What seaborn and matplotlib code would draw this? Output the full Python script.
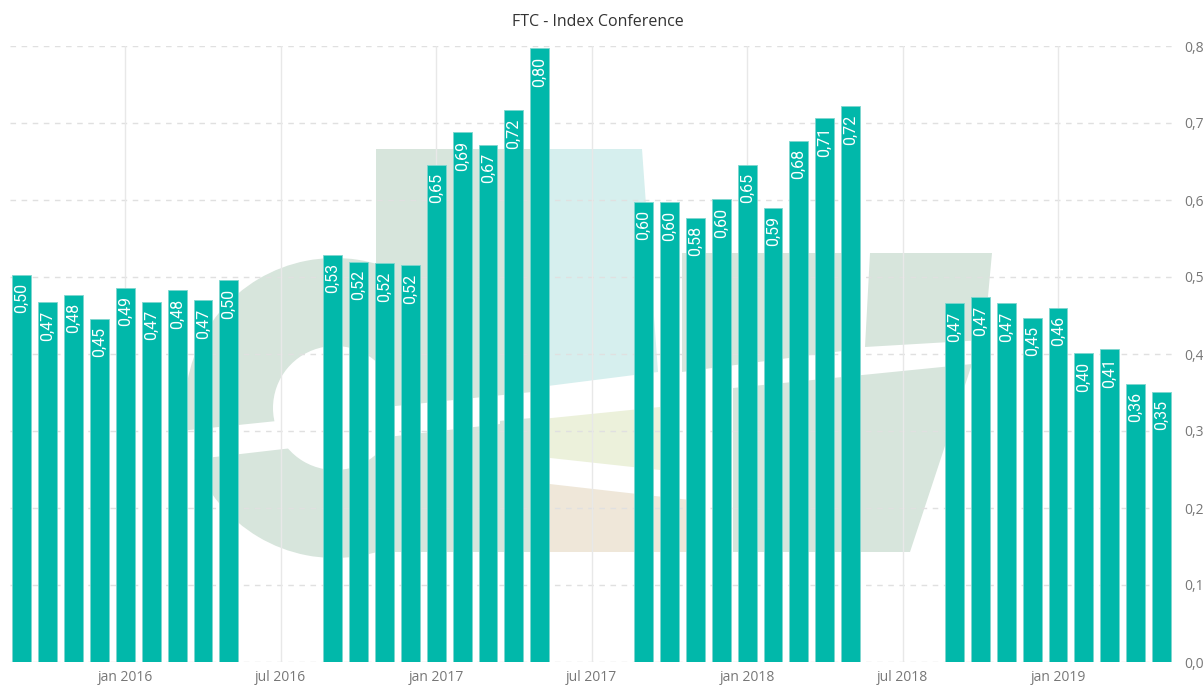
import matplotlib
matplotlib.use("Agg")
import matplotlib.pyplot as plt
from matplotlib.patches import Polygon, Wedge
import numpy as np
import pandas as pd
import seaborn as sns

# monthly index values, one list per season (sep - may), summer months have no data
season_2015 = [0.503, 0.467, 0.477, 0.446, 0.486, 0.468, 0.483, 0.470, 0.496]
season_2016 = [0.529, 0.520, 0.518, 0.515, 0.646, 0.688, 0.672, 0.717, 0.797]
season_2017 = [0.598, 0.597, 0.577, 0.601, 0.646, 0.590, 0.677, 0.706, 0.722]
season_2018 = [0.466, 0.474, 0.466, 0.447, 0.460, 0.401, 0.406, 0.361, 0.351]

months_en = ["jan", "feb", "mar", "apr", "maj", "jun", "jul", "aug", "sep", "okt", "nov", "dec"]
tick_months = ["jan 2016", "jul 2016", "jan 2017", "jul 2017", "jan 2018", "jul 2018", "jan 2019"]

bar_color = "#01B8AA"

dates = pd.date_range("2015-09-01", "2019-05-01", freq="MS")
season_data = {2015: season_2015, 2016: season_2016, 2017: season_2017, 2018: season_2018}
rows = []
for d in dates:
    season = d.year if d.month >= 9 else d.year - 1
    idx = (d.month - 9) % 12
    val = season_data[season][idx] if idx < 9 else np.nan
    rows.append({"month": f"{months_en[d.month - 1]} {d.year}", "value": val})
df = pd.DataFrame(rows)
order = list(df["month"])

sns.set_style("white")
plt.rcParams["font.family"] = ["Open Sans", "DejaVu Sans"]

fig = plt.figure(figsize=(12.03, 6.86), dpi=100)

# faint logo watermark behind the chart
bg = fig.add_axes([0, 0, 1, 1], zorder=0)
bg.set_xlim(0, 1203)
bg.set_ylim(686, 0)
bg.axis("off")
green = "#d7e5dc"
bg.add_patch(Wedge((335, 408), 150, 22, 338, width=88, color=green, lw=0))
shapes = [
    ([(376, 149), (532, 149), (532, 392), (376, 408)], green),
    ([(532, 149), (642, 149), (658, 372), (532, 388)], "#d6efee"),
    ([(376, 432), (532, 418), (532, 552), (376, 552)], green),
    ([(532, 420), (660, 407), (660, 470), (532, 456)], "#ecf1db"),
    ([(532, 482), (690, 500), (700, 552), (532, 552)], "#efe7d9"),
    ([(682, 253), (850, 253), (850, 350), (682, 372)], green),
    ([(733, 388), (972, 364), (910, 552), (733, 552)], green),
    ([(870, 253), (992, 253), (984, 340), (865, 347)], green),
]
for pts, col in shapes:
    bg.add_patch(Polygon(pts, closed=True, color=col, lw=0))
bg.add_patch(Polygon([(180, 431), (500, 398), (500, 424), (180, 461)], closed=True, color="white", lw=0))

ax = fig.add_axes([10 / 1203, 1 - 662 / 686, 1162 / 1203, (662 - 46) / 686], zorder=1)
ax.patch.set_alpha(0)

sns.barplot(data=df, x="month", y="value", order=order, color=bar_color,
            width=0.73, saturation=1, edgecolor="#7fd6cf", linewidth=0.6, ax=ax)

for p in ax.patches:
    h = p.get_height()
    if np.isnan(h):
        continue
    ax.annotate(f"{h:.2f}".replace(".", ","), (p.get_x() + p.get_width() / 2, h),
                xytext=(0, -6), textcoords="offset points", rotation=90,
                ha="center", va="top", color="white", fontsize=11.5, family=["Roboto", "DejaVu Sans"])

ax.set_xlim(-0.45, 44.4)
ax.set_ylim(0, 0.8)
ax.set_xlabel("")
ax.set_ylabel("")

tick_pos = [order.index(m) for m in tick_months]
ax.set_xticks(tick_pos)
ax.set_xticklabels(tick_months, color="#777777", fontsize=10)
ax.set_yticks(np.arange(0, 0.81, 0.1))
ax.set_yticklabels([f"{v:.1f}".replace(".", ",") for v in np.arange(0, 0.81, 0.1)],
                   color="#777777", fontsize=10)
ax.yaxis.tick_right()
ax.tick_params(axis="both", length=0)
ax.tick_params(axis="y", pad=9)
ax.tick_params(axis="x", pad=6)

for v in np.arange(0, 0.81, 0.1):
    ax.axhline(v, color="#e0e0e0", lw=1, ls=(0, (4, 4)), zorder=0)
for t in tick_pos:
    ax.axvline(t, color="#e8e8e8", lw=1, zorder=0)

for s in ax.spines.values():
    s.set_visible(False)

fig.text(0.497, 1 - 22 / 686, "FTC - Index Conference", ha="center", va="center",
         fontsize=11.5, color="#333333")

fig.savefig("out.png", dpi=100)
